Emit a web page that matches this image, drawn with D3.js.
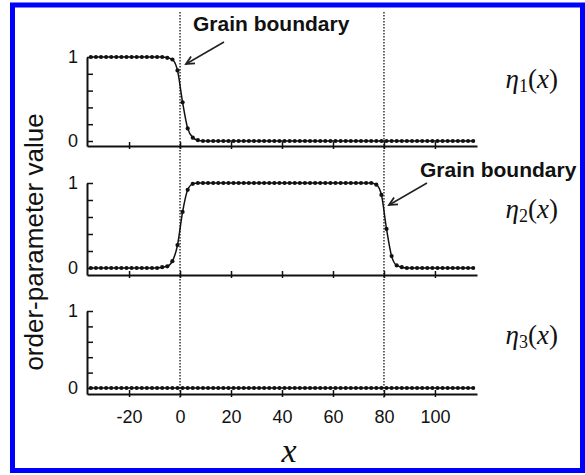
<!DOCTYPE html>
<html>
<head>
<meta charset="utf-8">
<script src="https://cdn.jsdelivr.net/npm/d3@7"></script>
<style>
  body { margin: 0; background: #fff; }
  svg { display: block; }
  .axis path, .axis line { stroke: #111; }
  .axis text { font-family: "Liberation Sans", Arial, sans-serif; font-size: 18px; fill: #111; }
</style>
</head>
<body>
<svg width="585" height="475"></svg>
<script>
// grid positions (x) and the three order parameters
const xs = [-35,-33,-31,-29,-27,-25,-23,-21,-19,-17,-15,-13,-11,-9,-7,-5,-3,-1,1,3,5,7,9,11,13,15,17,19,21,23,25,27,29,31,33,35,37,39,41,43,45,47,49,51,53,55,57,59,61,63,65,67,69,71,73,75,77,79,81,83,85,87,89,91,93,95,97,99,101,103,105,107,109,111,113,115];

const eta1 = [1,1,1,1,1,1,1,1,1,1,1,1,1,1, 1,0.99,0.97,0.84,0.46,0.15,0.04,0.01,
  0,0,0,0,0,0,0,0,0,0,0,0,0,0,0,0,0,0,0,0,0,0,0,0,0,0,0,0,0,0,0,0,
  0,0,0,0,0,0,0,0,0,0,0,0,0,0,0,0,0,0,0,0,0,0,0,0,0,0];

const eta2 = [0,0,0,0,0,0,0,0,0,0,0,0,0,0, 0.01,0.02,0.08,0.27,0.66,0.92,0.99,
  1,1,1,1,1,1,1,1,1,1,1,1,1,1,1,1,1,1,1,1,1,1,1,1,1,1,1,1,1,1,1,1,1,1,1,
  0.98,0.86,0.46,0.14,0.03,0.01,
  0,0,0,0,0,0,0,0,0,0,0,0,0,0];

const eta3 = [0,0,0,0,0,0,0,0,0,0,0,0,0,0,0,0,0,0,0,0,0,0,0,0,0,0,0,0,0,0,0,0,0,0,0,0,0,0,
  0,0,0,0,0,0,0,0,0,0,0,0,0,0,0,0,0,0,0,0,0,0,0,0,0,0,0,0,0,0,0,0,0,0,0,0,0,0];

const xTicks = [-20, 0, 20, 40, 60, 80, 100];
const yTicks = [0, 0.2, 0.4, 0.6, 0.8, 1];
const boundaries = [0, 80];
const seriesNames = ["1", "2", "3"];

const svg = d3.select("svg");

// blue frame
svg.append("rect")
    .attr("x", 12.5).attr("y", 5)
    .attr("width", 570).attr("height", 465.5)
    .attr("fill", "none")
    .attr("stroke", "#0000ff")
    .attr("stroke-width", 5);

const x = d3.scaleLinear()
    .domain([-36.5, 116.5])
    .range([87, 477]);

// per panel: pixel of value 1, of value 0, and of the x axis line
const panels = [
    {data: eta1, top: 57, zero: 141, axis: 146},
    {data: eta2, top: 183, zero: 268, axis: 275},
    {data: eta3, top: 311, zero: 388, axis: 394}
];

// dotted grain boundary lines
svg.append("g")
    .selectAll("line")
    .data(boundaries)
    .enter()
    .append("line")
    .attr("x1", d => x(d)).attr("x2", d => x(d))
    .attr("y1", 12).attr("y2", 398)
    .attr("stroke", "#333")
    .attr("stroke-width", 1.5)
    .attr("stroke-dasharray", "1.5,1.5");

panels.forEach((p, k) => {
    const lo = -(p.axis - p.zero) / (p.zero - p.top);
    const y = d3.scaleLinear().domain([lo, 1]).range([p.axis, p.top]);

    const g = svg.append("g");

    const xAxis = g.append("g")
        .attr("class", "axis")
        .attr("transform", `translate(0,${p.axis})`)
        .call(d3.axisBottom(x)
            .tickValues(xTicks)
            .tickSizeOuter(0)
            .tickSizeInner(3)
            .tickPadding(9)
            .tickFormat(k === 2 ? d => String(d) : () => ""));
    xAxis.select(".domain").attr("stroke-width", 2);
    xAxis.selectAll(".tick line").attr("y1", -4).attr("y2", 3).attr("stroke-width", 1.5);
    xAxis.selectAll(".tick text").attr("font-size", 19).attr("dy", "0.95em");

    const yAxis = g.append("g")
        .attr("class", "axis")
        .attr("transform", `translate(${x.range()[0]},0)`)
        .call(d3.axisLeft(y)
            .tickValues(yTicks)
            .tickSizeOuter(0)
            .tickSizeInner(-6)
            .tickPadding(9)
            .tickFormat(d => (d === 0 || d === 1) ? d : ""));
    yAxis.select(".domain").attr("stroke-width", 2);
    yAxis.selectAll(".tick line").attr("stroke-width", 1.5);
    yAxis.selectAll(".tick text").attr("font-size", 20);

    const pts = xs.map((v, i) => ({x: v, v: p.data[i]}));

    g.append("path")
        .datum(pts)
        .attr("fill", "none")
        .attr("stroke", "#111")
        .attr("stroke-width", 1.5)
        .attr("d", d3.line()
            .x(d => x(d.x))
            .y(d => y(d.v))
            .curve(d3.curveMonotoneX));

    g.selectAll("circle")
        .data(pts)
        .enter()
        .append("circle")
        .attr("cx", d => x(d.x))
        .attr("cy", d => y(d.v))
        .attr("r", 2.1)
        .attr("fill", "#111");

    // eta label
    const lab = g.append("text")
        .attr("x", 558)
        .attr("y", [88, 218, 344][k])
        .attr("text-anchor", "end")
        .attr("font-family", "'Liberation Serif', 'Times New Roman', serif")
        .attr("font-size", 27)
        .attr("fill", "#111");
    lab.append("tspan").attr("font-style", "italic").text("η");
    lab.append("tspan").attr("font-size", 18).attr("dy", 4).text(seriesNames[k]);
    lab.append("tspan").attr("dy", -4).text("(");
    lab.append("tspan").attr("font-style", "italic").text("x");
    lab.append("tspan").text(")");
});

// grain boundary annotations
const notes = [
    {tx: 193, ty: 31, x1: 224, y1: 42, x2: 186, y2: 64},
    {tx: 420, ty: 177, x1: 427, y1: 183, x2: 389, y2: 205}
];

notes.forEach(n => {
    svg.append("text")
        .attr("x", n.tx).attr("y", n.ty)
        .attr("font-family", "'Liberation Sans', Arial, sans-serif")
        .attr("font-weight", "bold")
        .attr("font-size", 21)
        .attr("fill", "#111")
        .text("Grain boundary");
    svg.append("line")
        .attr("x1", n.x1).attr("y1", n.y1)
        .attr("x2", n.x2).attr("y2", n.y2)
        .attr("stroke", "#222")
        .attr("stroke-width", 1.5);
    // open arrow head
    const ang = Math.atan2(n.y2 - n.y1, n.x2 - n.x1);
    const L = 9, w = 0.45;
    svg.append("path")
        .attr("d", `M${n.x2 - L * Math.cos(ang - w)},${n.y2 - L * Math.sin(ang - w)} L${n.x2},${n.y2} L${n.x2 - L * Math.cos(ang + w)},${n.y2 - L * Math.sin(ang + w)}`)
        .attr("fill", "none")
        .attr("stroke", "#222")
        .attr("stroke-width", 1.8);
});

// axis titles
svg.append("text")
    .attr("transform", "translate(43,242) rotate(-90)")
    .attr("text-anchor", "middle")
    .attr("font-family", "'Liberation Sans', Arial, sans-serif")
    .attr("font-size", 26)
    .attr("fill", "#111")
    .text("order-parameter value");

svg.append("text")
    .attr("x", 289).attr("y", 462)
    .attr("text-anchor", "middle")
    .attr("font-family", "'Liberation Serif', 'Times New Roman', serif")
    .attr("font-style", "italic")
    .attr("font-size", 34)
    .attr("fill", "#111")
    .text("x");
</script>
</body>
</html>
